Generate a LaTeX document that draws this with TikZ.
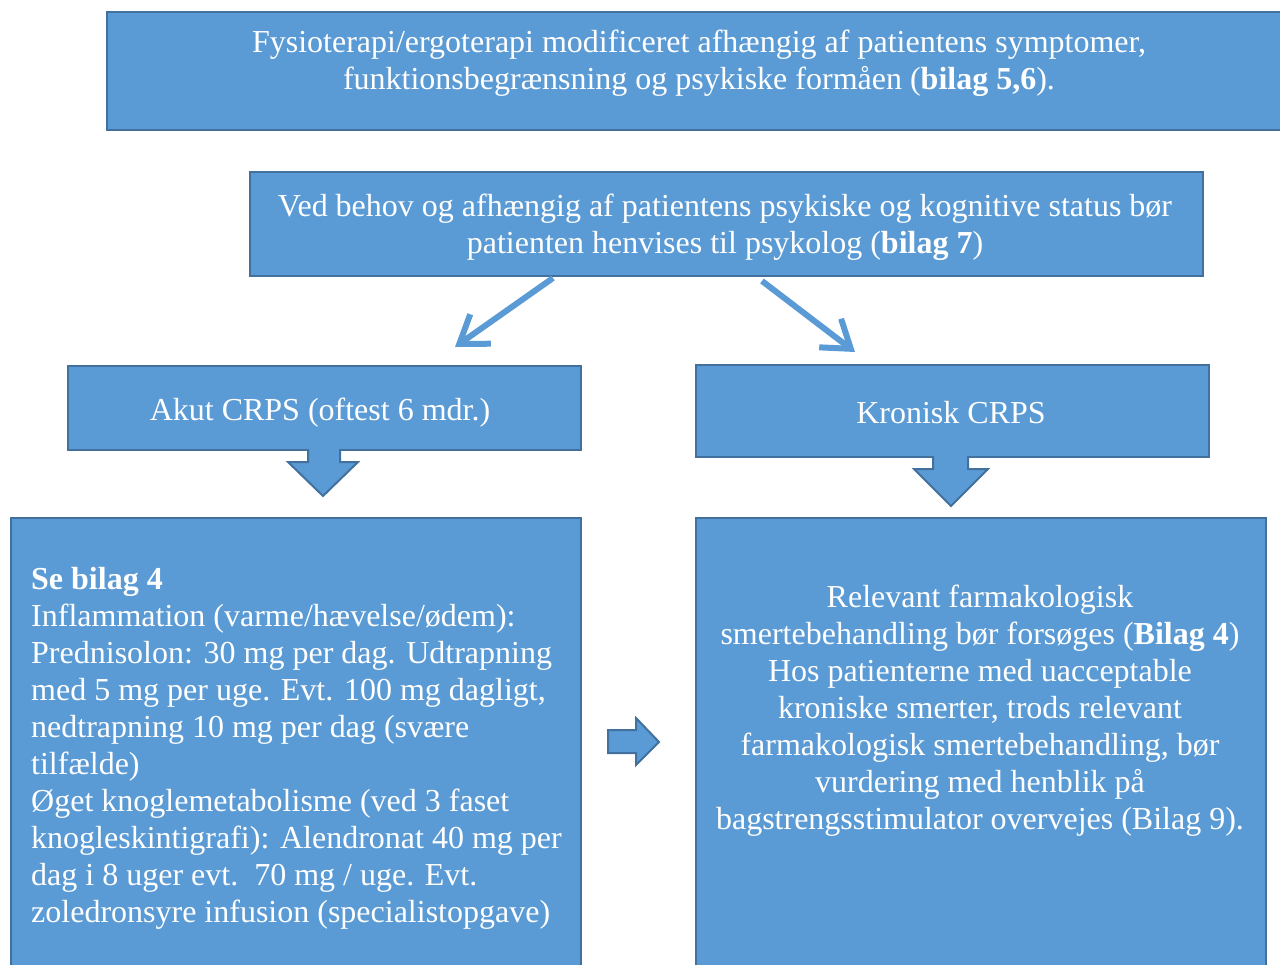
\documentclass[tikz,border=0pt]{standalone}
\usepackage{fontspec}
\setmainfont{Liberation Serif}
\usetikzlibrary{arrows.meta}
\definecolor{boxblue}{HTML}{5B9BD5}
\definecolor{boxline}{HTML}{41719C}
\tikzset{
  box/.style={draw=boxline,fill=boxblue,line width=2pt,rectangle,anchor=north west,inner sep=0pt},
  txt/.style={text=white,font=\fontsize{32}{37}\selectfont,inner sep=0pt},
  blockarrow/.style={draw=boxline,fill=boxblue,line width=2pt,line join=miter},
  link/.style={boxblue,line width=6pt,-{Straight Barb[length=26pt,width=36pt]}}
}
\begin{document}
\begin{tikzpicture}[x=1pt,y=-1pt]
\useasboundingbox (0,0) rectangle (1280,965);
% boxes
\node[box,minimum width=1184pt,minimum height=118pt] (fys) at (106,11) {};
\node[box,minimum width=953pt,minimum height=104pt] (vb) at (249,171) {};
\node[box,minimum width=513pt,minimum height=84pt] (akut) at (67,365) {};
\node[box,minimum width=513pt,minimum height=92pt] (kron) at (695,364) {};
\node[box,minimum width=570pt,minimum height=458pt] (akutbeh) at (10,517) {};
\node[box,minimum width=570pt,minimum height=458pt] (kronbeh) at (695,517) {};
% texts
\node[txt,align=center] (fystxt) at (699,63) {Fysioterapi/ergoterapi modificeret afhængig af patientens symptomer,\\funktionsbegrænsning og psykiske formåen (\textbf{bilag 5,6}).};
\node[txt,align=center] (vbtxt) at (725,227) {Ved behov og afhængig af patientens psykiske og kognitive status bør\\patienten henvises til psykolog (\textbf{bilag 7})};
\node[txt] (akuttxt) at (320,413) {Akut CRPS (oftest 6 mdr.)};
\node[txt] (krontxt) at (951,413) {Kronisk CRPS};
\node[txt,align=left,anchor=west] (akutbehtxt) at (31,748) {\textbf{Se bilag 4}\\Inflammation (varme/hævelse/ødem):\\Prednisolon: 30 mg per dag. Udtrapning\\med 5 mg per uge. Evt. 100 mg dagligt,\\nedtrapning 10 mg per dag (svære\\tilfælde)\\Øget knoglemetabolisme (ved 3 faset\\knogleskintigrafi): Alendronat 40 mg per\\dag i 8 uger evt.\ \ 70 mg / uge. Evt.\\zoledronsyre infusion (specialistopgave)};
\node[txt,align=center] (kronbehtxt) at (980,711) {Relevant farmakologisk\\smertebehandling bør forsøges (\textbf{Bilag 4})\\Hos patienterne med uacceptable\\kroniske smerter, trods relevant\\farmakologisk smertebehandling, bør\\vurdering med henblik på\\bagstrengsstimulator overvejes (Bilag 9).};
% thin arrows
\coordinate (l1) at (553,278);
\coordinate (l2) at (455,347);
\coordinate (r1) at (762,281);
\coordinate (r2) at (855,352);
\draw[link] (l1) -- (l2);
\draw[link] (r1) -- (r2);
% block arrows
\draw[blockarrow] (308,449) -- (308,462) -- (288,462) -- (323,496) -- (358,462) -- (340,462) -- (340,449);
\draw[blockarrow] (933,456) -- (933,469) -- (914,469) -- (951,506) -- (988,469) -- (968,469) -- (968,456);
\draw[blockarrow] (608,730) -- (636,730) -- (636,718) -- (659,742) -- (636,765) -- (636,753) -- (608,753) -- cycle;
\end{tikzpicture}
\end{document}
